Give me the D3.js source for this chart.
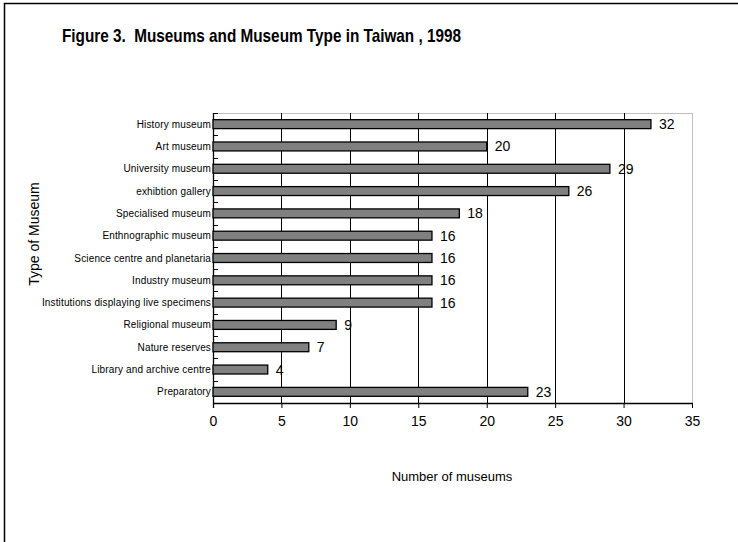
<!DOCTYPE html>
<html><head><meta charset="utf-8">
<script src="https://cdn.jsdelivr.net/npm/d3@7"></script>
<style>
html,body{margin:0;padding:0;background:#fff;}
svg{display:block;font-family:"Liberation Sans",Arial,sans-serif;}
</style></head>
<body><svg id="c" width="738" height="542"></svg>
<script>
const categories = ["History museum","Art museum","University museum","exhibtion gallery","Specialised museum","Enthnographic museum","Science centre and planetaria","Industry museum","Institutions displaying live specimens","Religional museum","Nature reserves","Library and archive centre","Preparatory"];
const values = [32,20,29,26,18,16,16,16,16,9,7,4,23];
const xTicks = [0,5,10,15,20,25,30,35];
const title = "Figure 3.  Museums and Museum Type in Taiwan , 1998";
const xTitle = "Number of museums";
const yTitle = "Type of Museum";

const svg = d3.select("#c");
svg.append("rect").attr("x",4.5).attr("y",3.5).attr("width",900).attr("height",700)
  .attr("fill","#fff").attr("stroke","#000").attr("stroke-width",1.5);

svg.append("text").attr("x",62).attr("y",41.5).attr("text-anchor","start")
  .attr("font-size",19).attr("font-weight","bold").attr("fill","#000")
  .style("white-space","pre").attr("textLength",399).attr("lengthAdjust","spacingAndGlyphs").text(title);

const L=213, R=692, T=113, B=403;
const x = d3.scaleLinear().domain([0,35]).range([L,R]);
const y = d3.scaleBand().domain(categories).range([T,B]).paddingInner(0.6).paddingOuter(0.3);
const yb = d3.scaleBand().domain(categories).range([T,B]);

svg.append("line").attr("x1",L).attr("x2",R).attr("y1",T+0.5).attr("y2",T+0.5).attr("stroke","#c0c0c0");
const g = svg.append("g");
g.selectAll("line.grid").data(xTicks.filter(d=>d>0)).join("line")
  .attr("x1",d=>Math.round(x(d))+0.5).attr("x2",d=>Math.round(x(d))+0.5)
  .attr("y1",T).attr("y2",B)
  .attr("stroke",d=>d===35?"#c0c0c0":"#000").attr("stroke-width",1);

const xa = svg.append("g").attr("transform",`translate(0,${B})`)
  .call(d3.axisBottom(x).tickValues(xTicks).tickSize(5).tickPadding(8).tickSizeOuter(0));
xa.select(".domain").attr("stroke","#000").attr("stroke-width",1.3);
xa.selectAll(".tick line").attr("stroke","#000");
xa.selectAll("text").attr("font-size",14).attr("font-family","Liberation Sans, Arial, sans-serif").attr("fill","#000");

svg.append("line").attr("x1",L+0.5).attr("x2",L+0.5).attr("y1",T).attr("y2",B+5).attr("stroke","#000").attr("stroke-width",1.3);
const bounds = categories.map(c=>yb(c));
svg.selectAll("line.yt").data(bounds).join("line")
  .attr("x1",L).attr("x2",L+5).attr("y1",d=>Math.round(d)+0.5).attr("y2",d=>Math.round(d)+0.5)
  .attr("stroke","#000").attr("stroke-width",1);

svg.selectAll("rect.bar").data(values).join("rect")
  .attr("x",x(0)).attr("y",(d,i)=>y(categories[i]))
  .attr("width",d=>x(d)-x(0)).attr("height",y.bandwidth())
  .attr("fill","#808080").attr("stroke","#000").attr("stroke-width",1.3);

svg.selectAll("text.val").data(values).join("text")
  .attr("x",d=>x(d)+8).attr("y",(d,i)=>y(categories[i])+y.bandwidth()/2+5)
  .attr("font-size",14).attr("fill","#000").text(d=>d);

svg.selectAll("text.cat").data(categories).join("text")
  .attr("x",L-2).attr("y",d=>yb(d)+yb.bandwidth()/2+3.5)
  .attr("text-anchor","end").attr("font-size",10).attr("letter-spacing",0.15).attr("fill","#000").text(d=>d);

svg.append("text").attr("x",452).attr("y",481).attr("text-anchor","middle")
  .attr("font-size",13).attr("fill","#000").text(xTitle);
svg.append("text").attr("transform","translate(39,234) rotate(-90)").attr("text-anchor","middle")
  .attr("font-size",14).attr("fill","#000").text(yTitle);
</script></body></html>
